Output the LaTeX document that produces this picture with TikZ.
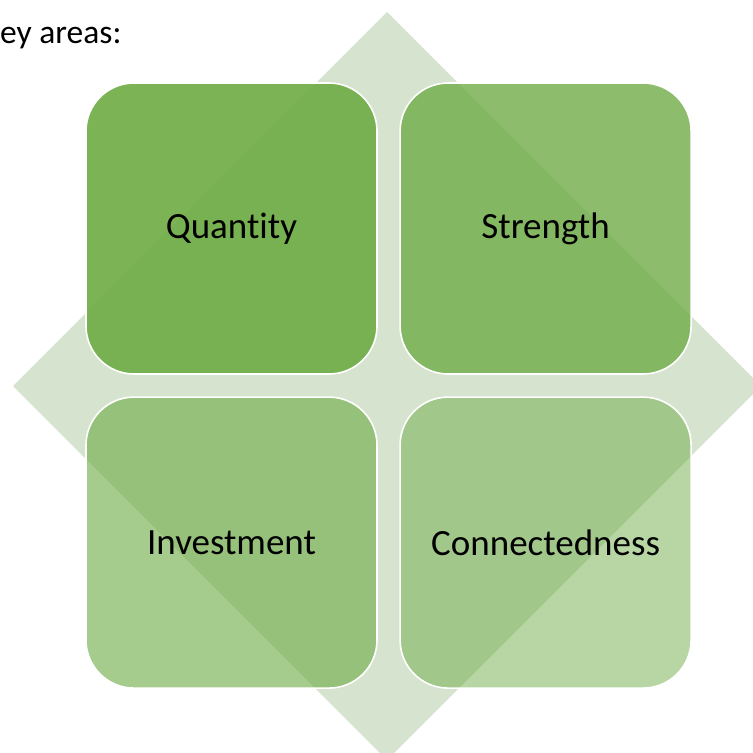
\documentclass[tikz,border=0pt]{standalone}
\usepackage{fontspec}
\setmainfont{Carlito}[Ligatures=NoCommon]
\usetikzlibrary{positioning}
\definecolor{leafgreen}{HTML}{70AD47}
\definecolor{backdrop}{HTML}{D6E3CF}
\tikzset{area node/.style={rectangle, draw=white, line width=1.6pt, fill=leafgreen,
    rounded corners=48pt, minimum size=291pt, inner sep=0pt, text opacity=1,
    font=\fontsize{37}{44}\selectfont},}

\begin{document}
\begin{tikzpicture}[x=1pt, y=-1pt]
				\useasboundingbox (0,0) rectangle (753,753);
				% Backdrop
				\fill[backdrop] (387,12) -- (761,386) -- (387,760) -- (13,386) -- cycle;
				\node[anchor=base west, inner sep=0pt, font=\fontsize{33.5}{40}\selectfont] (title) at (0,43) {ey areas:};
				% Areas
				\node[area node, fill opacity=0.92] (1) at (231.5,228.5) {Quantity};
				\node[area node, fill opacity=0.8] [right = 21.5pt of 1] (2) {Strength};
				\node[area node, fill opacity=0.62] [below = 21.5pt of 1] (3) {Investment};
				\node[area node, fill opacity=0.5] [right = 21.5pt of 3] (4) {Connectedness};
			\end{tikzpicture}
\end{document}
